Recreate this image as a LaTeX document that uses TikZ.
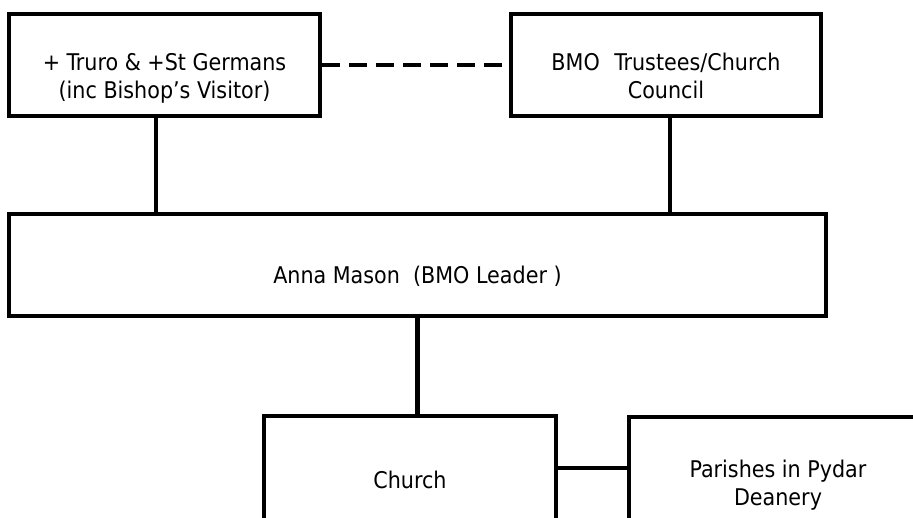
\documentclass[tikz,border=0pt]{standalone}
\usepackage{fontspec}
\setmainfont{DejaVu Sans Condensed}
\usetikzlibrary{calc}

\begin{document}
\begin{tikzpicture} [x=1pt, y=-1pt,
  box/.style={draw, line width=4.3pt, align=center, inner sep=0pt, text depth=0pt, font=\fontsize{23}{28}\selectfont},
  link/.style={line width=4.3pt},
  dashlink/.style={line width=4.3pt, dash pattern=on 18pt off 9pt}]
\useasboundingbox (0,0) rectangle (913,517);
\clip (0,0) rectangle (913,517);

\node[box, minimum width=311pt, minimum height=102pt, text height=66pt] (truro) at (164.5,65) {+ Truro \& +St Germans\\(inc Bishop’s Visitor)};
\node[box, minimum width=310pt, minimum height=102pt, text height=66pt] (trustees) at (666,65) {BMO\hspace{8pt} Trustees/Church\\Council};
\node[box, minimum width=817pt, minimum height=102pt, text height=36pt] (anna) at (417.5,265) {Anna Mason~~(BMO Leader~)};
\node[box, minimum width=292pt, minimum height=130pt, text height=14pt] (church) at (410,481) {Church};
\node[box, minimum width=298pt, minimum height=130pt, text height=46pt] (parish) at (778,482) {Parishes in Pydar\\Deanery};

\draw[dashlink] (truro.east) -- (trustees.west);
\draw[link] ([xshift=-8.5pt]truro.south) -- ([xshift=-8.5pt]truro.south |- anna.north);
\draw[link] ([xshift=4pt]trustees.south) -- ([xshift=4pt]trustees.south |- anna.north);
\draw[link] (anna.south) -- (anna.south |- church.north);
\coordinate (joint) at (592,468);
\draw[link] (church.east |- joint) -- (parish.west |- joint);

\end{tikzpicture}
\end{document}
